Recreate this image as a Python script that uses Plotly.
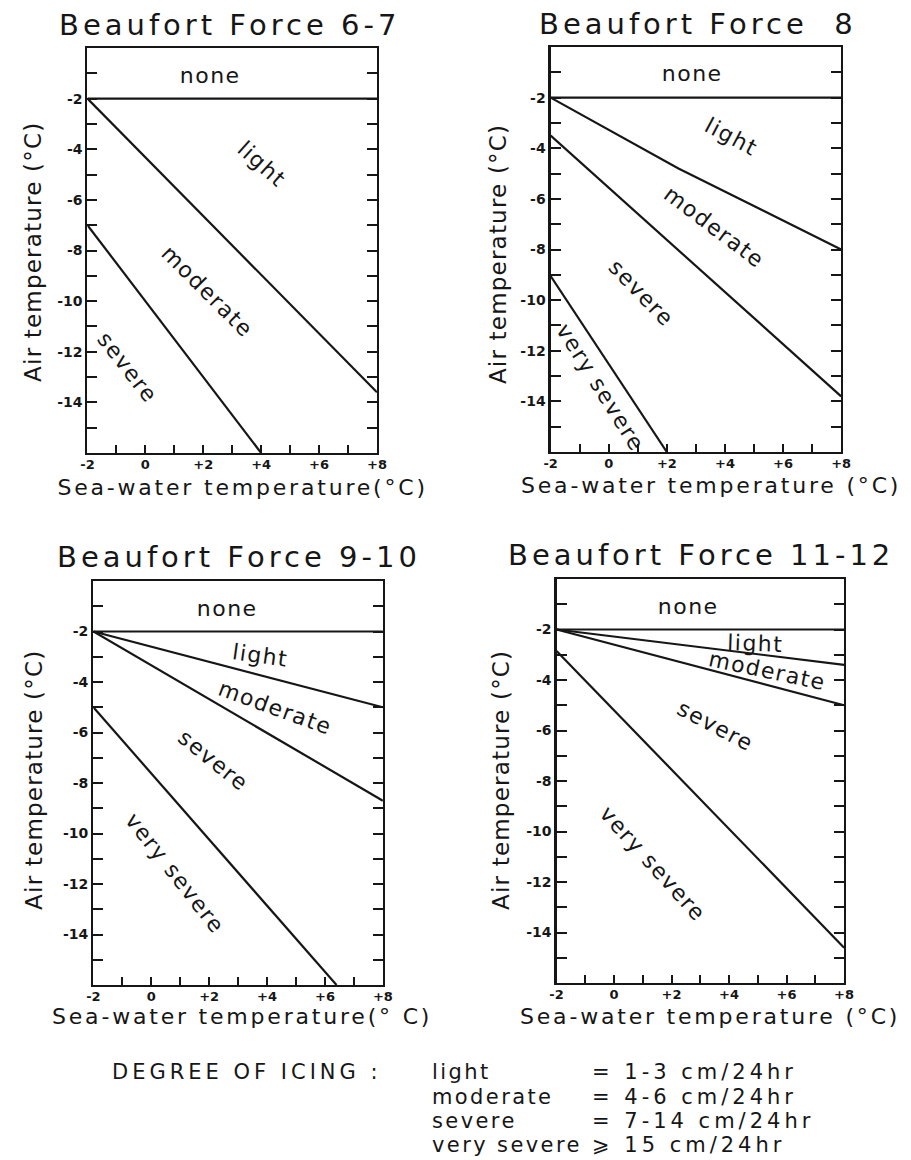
import json
import plotly.graph_objects as go

W, H = 911, 1160
FONT = "DejaVu Sans"
INK = "#161616"

# ---------------- data ----------------
titles = ["Beaufort Force 6-7", "Beaufort Force  8", "Beaufort Force 9-10", "Beaufort Force 11-12"]
x_tickvals = [-2, 0, 2, 4, 6, 8]
x_ticktext = ["-2", "0", "+2", "+4", "+6", "+8"]
y_tickvals = [-2, -4, -6, -8, -10, -12, -14]
y_ticktext = ["-2", "-4", "-6", "-8", "-10", "-12", "-14"]

# Panel 1 (Force 6-7) boundaries
p1_none_x, p1_none_y = [-2, 8], [-2, -2]
p1_light_x, p1_light_y = [-2, 8], [-2, -13.6]
p1_mod_x, p1_mod_y = [-2, 4], [-7, -16]

# Panel 2 (Force 8)
p2_none_x, p2_none_y = [-2, 8], [-2, -2]
p2_light_x, p2_light_y = [-2, 2.4, 8], [-2, -4.8, -8]
p2_mod_x, p2_mod_y = [-2, 8], [-3.5, -13.8]
p2_sev_x, p2_sev_y = [-2, 2], [-9.05, -16]

# Panel 3 (Force 9-10)
p3_none_x, p3_none_y = [-2, 8], [-2, -2]
p3_light_x, p3_light_y = [-2, 8], [-2, -5]
p3_mod_x, p3_mod_y = [-2, 8], [-2, -8.7]
p3_sev_x, p3_sev_y = [-2, 6.4], [-5, -16]

# Panel 4 (Force 11-12)
p4_none_x, p4_none_y = [-2, 8], [-2, -2]
p4_light_x, p4_light_y = [-2, 8], [-2, -3.4]
p4_mod_x, p4_mod_y = [-2, 8], [-2, -5]
p4_sev_x, p4_sev_y = [-2, 8], [-2.85, -14.6]

# region labels: (text, x, y, angle)
p1_labels = [("none", 2.2, -1.1, 0), ("light", 4.0, -4.55, 42),
             ("moderate", 2.1, -9.6, 45), ("severe", -0.65, -12.6, 52)]
p2_labels = [("none", 2.85, -1.05, 0), ("light", 4.2, -3.55, 28),
             ("moderate", 3.6, -7.1, 37), ("severe", 1.1, -9.7, 46),
             ("very severe", -0.3, -13.4, 58)]
p3_labels = [("none", 2.6, -1.1, 0), ("light", 3.75, -2.95, 8),
             ("moderate", 4.25, -5.0, 20), ("severe", 2.15, -7.1, 39),
             ("very severe", 0.8, -11.55, 52)]
p4_labels = [("none", 2.55, -1.1, 0), ("light", 4.9, -2.55, 2),
             ("moderate", 5.3, -3.62, 12), ("severe", 3.5, -5.8, 28),
             ("very severe", 1.35, -11.25, 48)]

legend_names = ["light", "moderate", "severe", "very severe"]
legend_values = ["= 1-3 cm/24hr", "= 4-6 cm/24hr", "= 7-14 cm/24hr", "\u2a7e 15 cm/24hr"]

# ---------------- layout helpers ----------------
def px_x(p):
    return p / W

def px_y(p):
    return 1 - p / H

# panel boxes in pixels: (left, right, top, bottom)
boxes = [(82, 377, 48, 453), (554, 850, 47, 452), (88, 383, 581, 985), (560, 853, 579, 983)]
title_pos = [(225, 25), (702, 24), (234, 557), (705, 555)]
ytitle_pos = [(27, 252), (500, 255), (28, 780), (503, 781)]
xtitle_pos = [(238, 487), (716, 485), (238, 1016), (715, 1016)]
xtitles = ["Sea-water temperature(\u00b0C)", "Sea-water temperature (\u00b0C)",
           "Sea-water temperature(\u00b0 C)", "Sea-water temperature (\u00b0C)"]

panels = [
    [(p1_none_x, p1_none_y), (p1_light_x, p1_light_y), (p1_mod_x, p1_mod_y)],
    [(p2_none_x, p2_none_y), (p2_light_x, p2_light_y), (p2_mod_x, p2_mod_y), (p2_sev_x, p2_sev_y)],
    [(p3_none_x, p3_none_y), (p3_light_x, p3_light_y), (p3_mod_x, p3_mod_y), (p3_sev_x, p3_sev_y)],
    [(p4_none_x, p4_none_y), (p4_light_x, p4_light_y), (p4_mod_x, p4_mod_y), (p4_sev_x, p4_sev_y)],
]
labels = [p1_labels, p2_labels, p3_labels, p4_labels]

fig = go.Figure()
annotations = []
spacing = []  # letter spacing per annotation (px)
anchors = []  # which edge to keep fixed after spacing
layout = {}


def add_ann(ls, **kw):
    annotations.append(kw)
    spacing.append(ls)
    anchors.append(kw.get("xanchor", "center"))


for i, (lines, labs) in enumerate(zip(panels, labels)):
    n = "" if i == 0 else str(i + 1)
    xa, ya = "x" + n, "y" + n
    for lx, ly in lines:
        fig.add_trace(go.Scatter(x=lx, y=ly, mode="lines", xaxis=xa, yaxis=ya,
                                 line=dict(color=INK, width=2.2), showlegend=False,
                                 hoverinfo="skip"))
    L, R, T, B = boxes[i]
    layout["xaxis" + n] = dict(
        domain=[px_x(L), px_x(R)], range=[-2, 8], anchor=ya,
        showline=True, linecolor=INK, linewidth=2.2, mirror=True,
        showgrid=False, zeroline=False,
        ticks="inside", ticklen=8, tickwidth=2, tickcolor=INK,
        tickvals=x_tickvals, ticktext=x_ticktext, ticklabelstandoff=-2,
        minor=dict(ticks="inside", dtick=1, tick0=0, ticklen=8, tickwidth=2, tickcolor=INK, showgrid=False),
        tickfont=dict(family=FONT, size=13, color=INK, weight="bold"),
    )
    layout["yaxis" + n] = dict(
        domain=[px_y(B), px_y(T)], range=[-16, 0], anchor=xa,
        showline=True, linecolor=INK, linewidth=2.2, mirror="ticks",
        showgrid=False, zeroline=False,
        ticks="inside", ticklen=10, tickwidth=2, tickcolor=INK,
        tickvals=y_tickvals, ticktext=y_ticktext,
        minor=dict(ticks="inside", dtick=1, tick0=0, ticklen=10, tickwidth=2, tickcolor=INK, showgrid=False),
        tickfont=dict(family=FONT, size=14, color=INK, weight="bold"),
    )
    for txt, tx, ty, ang in labs:
        add_ann(1.5, text=txt, x=tx, y=ty, xref=xa, yref=ya, showarrow=False,
                textangle=ang, xanchor="center", yanchor="middle",
                font=dict(family=FONT, size=22, color=INK))
    tx, ty = title_pos[i]
    add_ann(4, text=titles[i], x=px_x(tx), y=px_y(ty), xref="paper", yref="paper",
            showarrow=False, xanchor="center", yanchor="middle",
            font=dict(family=FONT, size=29, color=INK))
    tx, ty = ytitle_pos[i]
    add_ann(1.2, text="Air temperature (\u00b0C)", x=px_x(tx), y=px_y(ty), xref="paper", yref="paper",
            showarrow=False, xanchor="center", yanchor="middle", textangle=-90,
            font=dict(family=FONT, size=23, color=INK))
    tx, ty = xtitle_pos[i]
    add_ann(2.8, text=xtitles[i], x=px_x(tx), y=px_y(ty), xref="paper", yref="paper",
            showarrow=False, xanchor="center", yanchor="middle",
            font=dict(family=FONT, size=22, color=INK))

# legend text block
add_ann(4, text="DEGREE OF ICING :", x=px_x(105), y=px_y(1072), xref="paper", yref="paper",
        showarrow=False, xanchor="left", yanchor="middle",
        font=dict(family=FONT, size=21, color=INK))
row_y = [1072, 1097, 1121, 1145]
for name, val, ry in zip(legend_names, legend_values, row_y):
    add_ann(2.4, text=name, x=px_x(431), y=px_y(ry), xref="paper", yref="paper",
            showarrow=False, xanchor="left", yanchor="middle",
            font=dict(family=FONT, size=21, color=INK))
    add_ann(4, text=val, x=px_x(594), y=px_y(ry), xref="paper", yref="paper",
            showarrow=False, xanchor="left", yanchor="middle",
            font=dict(family=FONT, size=21, color=INK))

fig.update_layout(width=W, height=H, margin=dict(l=0, r=0, t=0, b=0),
                  paper_bgcolor="white", plot_bgcolor="white",
                  annotations=annotations, showlegend=False, **layout)

post = """
document.body.style.margin = '0px';
document.body.style.overflow = 'hidden';
var LS = %s;
var AN = %s;
document.querySelectorAll('g.annotation').forEach(function(g){
  var i = +g.getAttribute('data-index');
  var t = g.querySelector('text.annotation-text');
  if (!t || !LS[i]) { return; }
  var b0 = t.getBBox();
  t.style.letterSpacing = LS[i] + 'px';
  var b1 = t.getBBox();
  var dx;
  if (AN[i] === 'left') { dx = b0.x - b1.x; }
  else { dx = (b0.x + b0.width / 2) - (b1.x + b1.width / 2) + LS[i] / 2; }
  t.setAttribute('transform', 'translate(' + dx + ',0)');
});
""" % (json.dumps(spacing), json.dumps(anchors))

fig.write_html("out.html", post_script=post, config={"displayModeBar": False, "staticPlot": True})
